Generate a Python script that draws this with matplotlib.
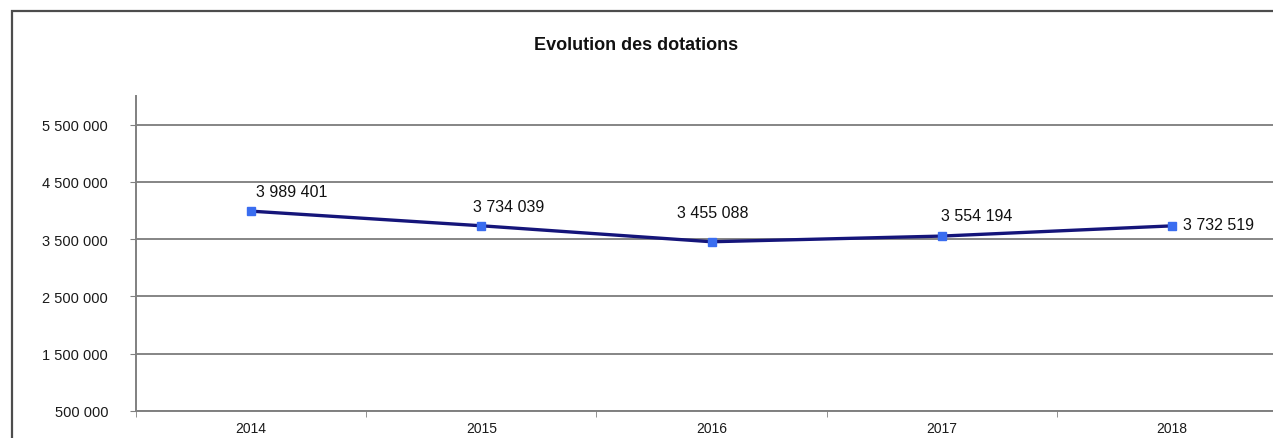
import matplotlib
matplotlib.use("Agg")
import matplotlib.pyplot as plt
from matplotlib.patches import Rectangle

# données
annees = ["2014", "2015", "2016", "2017", "2018"]
dotations = [3989401, 3734039, 3455088, 3554194, 3732519]
graduations = [500000, 1500000, 2500000, 3500000, 4500000, 5500000]

# décalage des étiquettes (points) : dx, dy, alignement
decalages = [(29, 14, "center"), (20, 14, "center"), (1, 21, "center"),
             (25, 15, "center"), (8, 1, "left")]

plt.rcParams["font.family"] = ["Liberation Sans", "DejaVu Sans"]


def fmt(v):
    return f"{v:,.0f}".replace(",", " ")


fig = plt.figure(figsize=(12.73, 4.39), dpi=100)
fig.patch.set_facecolor("white")

# cadre extérieur
cadre = Rectangle((12 / 1273, -0.2), 2.0, 0.2 + (1 - 12 / 439), transform=fig.transFigure,
                  fill=False, edgecolor="#4d4d4d", linewidth=1.6)
fig.add_artist(cadre)

fig.text(0.5, 1 - 46 / 439, "Evolution des dotations", ha="center", va="center",
         fontsize=13, fontweight="bold", color="#111111")

ax = fig.add_axes([136 / 1273, 1 - 412 / 439, (1287 - 136) / 1273, (412 - 97) / 439])
x = list(range(len(annees)))

ax.set_ylim(500000, 6000000)
ax.set_xlim(-0.5, len(annees) - 0.5)
ax.set_yticks(graduations)
ax.set_yticklabels([fmt(g) for g in graduations], fontsize=10.5, color="#1a1a1a")
ax.set_xticks(x)
ax.set_xticklabels(annees, fontsize=10, color="#1a1a1a")
ax.set_xticks([i - 0.5 for i in range(len(annees) + 1)], minor=True)
ax.tick_params(axis="x", which="major", length=0, pad=7)
ax.tick_params(axis="x", which="minor", length=4, color="#808080", direction="out")
ax.tick_params(axis="y", length=4, color="#808080", pad=16)

ax.grid(axis="y", color="#858585", linewidth=1.4)
ax.set_axisbelow(True)
for s in ["top", "right"]:
    ax.spines[s].set_visible(False)
for s in ["left", "bottom"]:
    ax.spines[s].set_color("#808080")
    ax.spines[s].set_linewidth(1.4)

ax.plot(x, dotations, color="#15157a", linewidth=2.4, zorder=3)
ax.plot(x, dotations, linestyle="none", marker="s", markersize=6,
        color="#3a6df0", zorder=4)

for xi, v, (dx, dy, ha) in zip(x, dotations, decalages):
    ax.annotate(fmt(v), (xi, v), xytext=(dx, dy), textcoords="offset points",
                ha=ha, va="center", fontsize=11.5, color="#111111")

fig.savefig("out.png", dpi=100)
